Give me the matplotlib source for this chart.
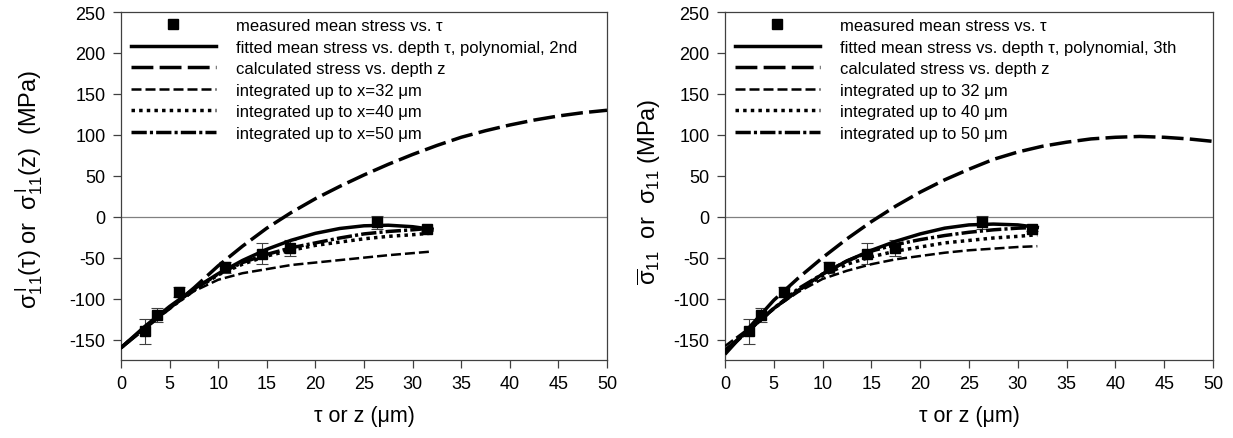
import matplotlib
matplotlib.use("Agg")
import matplotlib.pyplot as plt

plt.rcParams["font.family"] = ["Liberation Sans", "DejaVu Sans"]
plt.rcParams["mathtext.fontset"] = "custom"
plt.rcParams["mathtext.rm"] = "Liberation Sans"
plt.rcParams["mathtext.it"] = "Liberation Sans:italic"
plt.rcParams["mathtext.default"] = "regular"
plt.rcParams["axes.unicode_minus"] = False

# ── measured mean stress (same in both panels) ───────────────────────────────
meas_tau = [2.5, 3.7, 6.0, 10.7, 14.5, 17.4, 26.3, 31.5]
meas_sig = [-140, -120, -92, -62, -45, -38, -7, -15]
meas_err = [15, 8, 6, 7, 13, 10, 8, 3]

# ── curve depths ──────────────────────────────────────────────────────────────
x_short = [0, 2.5, 5, 7.5, 10, 12.5, 15, 17.5, 20, 22.5, 25, 27.5, 30, 32]
x_long = [0, 2.5, 5, 7.5, 10, 12.5, 15, 17.5, 20, 22.5, 25, 27.5, 30,
          32.5, 35, 37.5, 40, 42.5, 45, 47.5, 50]

# ── left panel: polynomial 2nd ───────────────────────────────────────────────
L_fit  = [-160, -133.5, -109.6, -88.3, -69.6, -53.4, -39.8, -28.8, -20.3,
          -14.4, -11.1, -10.4, -12.2, -15.5]
L_calc = [-160, -136, -112, -87, -60, -36, -14, 5, 22, 37, 51, 64, 76,
          87, 97, 105, 112, 118, 123, 127, 130]
L_i32  = [-160, -135, -112, -91, -77, -69, -64, -59, -56, -53, -50, -47,
          -44.5, -42.5]
L_i40  = [-160, -135, -112, -90, -71, -58, -48, -41, -35, -31, -27, -24,
          -22, -20]
L_i50  = [-160, -135, -111, -89, -70, -56, -46, -38, -32, -26, -21, -18,
          -16, -14]

# ── right panel: polynomial 3rd ──────────────────────────────────────────────
R_fit  = [-163, -138, -112, -90, -70, -54, -41, -30, -21, -14, -10, -9,
          -10, -13]
R_calc = [-168, -135, -102, -75, -50, -27, -6, 13, 30, 45, 58, 70, 79,
          86, 91, 95, 97, 98, 97, 95, 92]
R_i32  = [-158, -136, -112, -92, -76, -66, -58, -52, -48, -44, -41, -39,
          -37, -36]
R_i40  = [-165, -138, -112, -90, -72, -58, -49, -42, -37, -32, -29, -26,
          -24, -22]
R_i50  = [-165, -138, -112, -88, -70, -54, -42, -34, -28, -23, -19, -16,
          -14, -13]

xticks = list(range(0, 51, 5))
yticks = list(range(-150, 251, 50))

W, H = 1233, 439
fig = plt.figure(figsize=(W / 100, H / 100), dpi=100)
fig.patch.set_facecolor("white")

ax_l = fig.add_axes([121 / W, (H - 361) / H, 486 / W, 348 / H])
ax_r = fig.add_axes([725 / W, (H - 361) / H, 488 / W, 348 / H])


def draw_panel(ax, fit, calc, i32, i40, i50, labels):
    ax.axhline(0, color="#808080", lw=0.9, zorder=1)
    ax.errorbar(meas_tau, meas_sig, yerr=meas_err, fmt="none",
                ecolor="#404040", elinewidth=0.8, capsize=4, capthick=0.8,
                zorder=3)
    ax.plot(meas_tau, meas_sig, "s", color="black", ms=7, ls="none",
            label=labels[0], zorder=6)
    ax.plot(x_short, fit, color="black", lw=2.5, label=labels[1], zorder=5)
    ax.plot(x_long, calc, color="black", lw=2.5, dashes=(6.3, 1.8),
            label=labels[2], zorder=4)
    ax.plot(x_short, i32, color="black", lw=1.8, dashes=(4, 1.6),
            label=labels[3], zorder=4)
    ax.plot(x_short, i40, color="black", lw=2.5, dashes=(1, 1.2),
            label=labels[4], zorder=4)
    ax.plot(x_short, i50, color="black", lw=2.5, dashes=(4.4, 0.9, 0.9, 0.9),
            label=labels[5], zorder=4)

    ax.set_xlim(0, 50)
    ax.set_ylim(-175, 250)
    ax.set_xticks(xticks)
    ax.set_yticks(yticks)
    ax.tick_params(direction="out", length=6, width=0.9, labelsize=13,
                   color="#404040", pad=5)
    for s in ax.spines.values():
        s.set_color("#404040")
        s.set_linewidth(0.9)
    ax.set_xlabel(r"τ or z (μm)", fontsize=15.5, labelpad=9)

    leg = ax.legend(loc="upper left", bbox_to_anchor=(0.02, 0.982),
                    frameon=False, fontsize=12.0, handlelength=5.1,
                    handletextpad=1.2, labelspacing=0.39, borderpad=0,
                    borderaxespad=0, numpoints=1)
    return leg


labels_l = ["measured mean stress vs. τ",
            "fitted mean stress vs. depth τ, polynomial, 2nd",
            "calculated stress vs. depth z",
            "integrated up to x=32 μm",
            "integrated up to x=40 μm",
            "integrated up to x=50 μm"]
labels_r = ["measured mean stress vs. τ",
            "fitted mean stress vs. depth τ, polynomial, 3th",
            "calculated stress vs. depth z",
            "integrated up to 32 μm",
            "integrated up to 40 μm",
            "integrated up to 50 μm"]

draw_panel(ax_l, L_fit, L_calc, L_i32, L_i40, L_i50, labels_l)
draw_panel(ax_r, R_fit, R_calc, R_i32, R_i40, R_i50, labels_r)

ax_l.set_ylabel(r"$\sigma_{11}^{\,I}(\tau)$ or  $\sigma_{11}^{\,I}(z)$  (MPa)",
                fontsize=17)
ax_l.yaxis.set_label_coords(-0.156, 0.494)
ax_r.set_ylabel(r"$\overline{\sigma}_{11}$  or  $\sigma_{11}$ (MPa)",
                fontsize=17)
ax_r.yaxis.set_label_coords(-0.127, 0.486)

fig.savefig("out.png", dpi=100, facecolor="white")
